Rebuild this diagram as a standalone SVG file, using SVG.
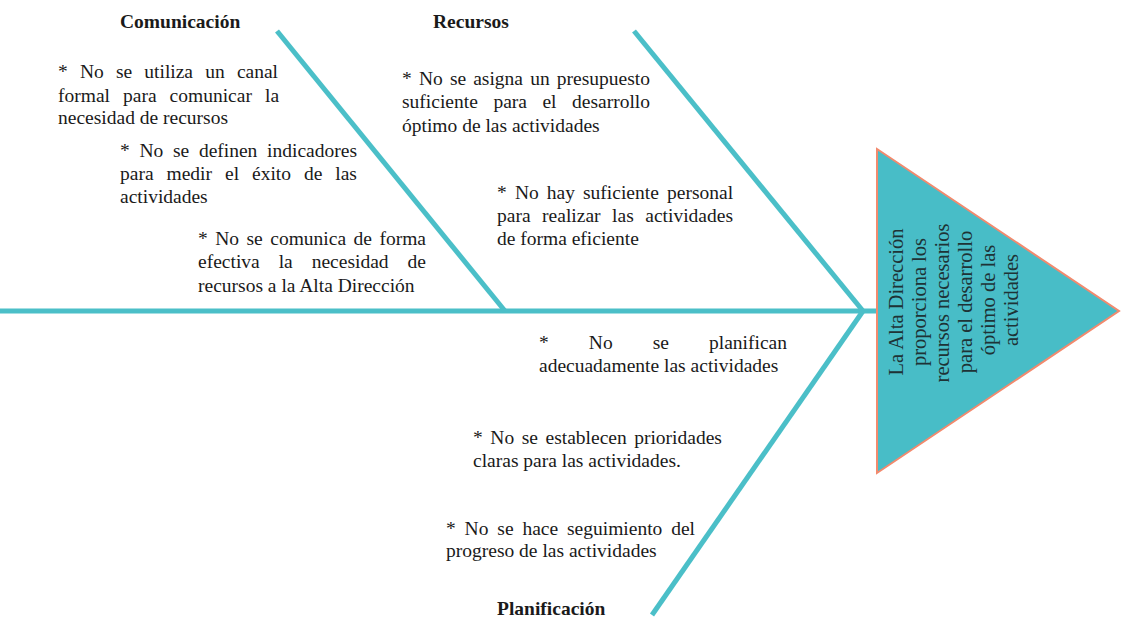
<svg xmlns="http://www.w3.org/2000/svg" width="1122" height="632" viewBox="0 0 1122 632">
<style>
.bone{stroke:#4BBFC8;stroke-width:5;fill:none;stroke-linecap:butt}
.t{font-family:"Liberation Serif","Times New Roman",serif;font-size:19.5px;fill:#1a1a1a}
.h{font-family:"Liberation Serif","Times New Roman",serif;font-size:19.5px;font-weight:bold;fill:#1a1a1a}
.tri{font-family:"Liberation Serif","Times New Roman",serif;font-size:20.5px;fill:#1e3336;text-anchor:middle}
</style>
<rect width="1122" height="632" fill="#ffffff"/>
<g id="connectors">
<line class="bone" x1="0" y1="311" x2="878" y2="311"/>
<line class="bone" x1="277" y1="31" x2="505" y2="311"/>
<line class="bone" x1="634" y1="31" x2="863" y2="311"/>
<line class="bone" x1="863" y1="311" x2="652" y2="615"/>
</g>
<g id="effect">
<polygon points="877,149 1119,311 877,473" fill="#48BDC7" stroke="#F28A6E" stroke-width="2"/>
<text class="tri" transform="translate(903,302) rotate(-90)">La Alta Dirección</text>
<text class="tri" transform="translate(926,302) rotate(-90)">proporciona los</text>
<text class="tri" transform="translate(949,303) rotate(-90)">recursos necesarios</text>
<text class="tri" transform="translate(972,302) rotate(-90)">para el desarrollo</text>
<text class="tri" transform="translate(995,300) rotate(-90)">óptimo de las</text>
<text class="tri" transform="translate(1018,300) rotate(-90)">actividades</text>
</g>
<g id="comunicacion">
<text class="h" x="120" y="28">Comunicación</text>
<text class="t" y="78"><tspan x="58">*</tspan><tspan x="79.9">No</tspan><tspan x="115.9">se</tspan><tspan x="144.3">utiliza</tspan><tspan x="205.2">un</tspan><tspan x="236.9">canal</tspan></text>
<text class="t" y="102"><tspan x="58">formal</tspan><tspan x="123">para</tspan><tspan x="169.6">comunicar</tspan><tspan x="265">la</tspan></text>
<text class="t" x="58" y="124">necesidad de recursos</text>
<text class="t" y="157"><tspan x="120">*</tspan><tspan x="139.5">No</tspan><tspan x="173">se</tspan><tspan x="198.9">definen</tspan><tspan x="267.1">indicadores</tspan></text>
<text class="t" y="180"><tspan x="120">para</tspan><tspan x="166.5">medir</tspan><tspan x="225">el</tspan><tspan x="252">éxito</tspan><tspan x="304">de</tspan><tspan x="335.3">las</tspan></text>
<text class="t" x="120" y="203">actividades</text>
<text class="t" y="245"><tspan x="198">*</tspan><tspan x="215.2">No</tspan><tspan x="246.5">se</tspan><tspan x="270.3">comunica</tspan><tspan x="353.6">de</tspan><tspan x="379.4">forma</tspan></text>
<text class="t" y="268"><tspan x="198">efectiva</tspan><tspan x="278.7">la</tspan><tspan x="311.7">necesidad</tspan><tspan x="407.6">de</tspan></text>
<text class="t" x="198" y="292">recursos a la Alta Dirección</text>
</g>
<g id="recursos">
<text class="h" x="433" y="28">Recursos</text>
<text class="t" y="85"><tspan x="402">*</tspan><tspan x="418.9">No</tspan><tspan x="449.9">se</tspan><tspan x="473.2">asigna</tspan><tspan x="530.2">un</tspan><tspan x="556.8">presupuesto</tspan></text>
<text class="t" y="108"><tspan x="402">suficiente</tspan><tspan x="493.4">para</tspan><tspan x="542.4">el</tspan><tspan x="572">desarrollo</tspan></text>
<text class="t" x="402" y="132">óptimo de las actividades</text>
<text class="t" y="199"><tspan x="497">*</tspan><tspan x="514.9">No</tspan><tspan x="546.8">hay</tspan><tspan x="583">suficiente</tspan><tspan x="667">personal</tspan></text>
<text class="t" y="222"><tspan x="497">para</tspan><tspan x="542.1">realizar</tspan><tspan x="612.1">las</tspan><tspan x="645.3">actividades</tspan></text>
<text class="t" x="497" y="245">de forma eficiente</text>
</g>
<g id="planificacion">
<text class="t" y="349"><tspan x="539">*</tspan><tspan x="588.8">No</tspan><tspan x="652.7">se</tspan><tspan x="709">planifican</tspan></text>
<text class="t" x="539" y="372">adecuadamente las actividades</text>
<text class="t" y="444"><tspan x="473">*</tspan><tspan x="490.3">No</tspan><tspan x="521.7">se</tspan><tspan x="545.5">establecen</tspan><tspan x="634.2">prioridades</tspan></text>
<text class="t" x="473" y="467">claras para las actividades.</text>
<text class="t" y="535"><tspan x="446">*</tspan><tspan x="464.6">No</tspan><tspan x="497.3">se</tspan><tspan x="522.4">hace</tspan><tspan x="567">seguimiento</tspan><tspan x="671.2">del</tspan></text>
<text class="t" x="446" y="557">progreso de las actividades</text>
<text class="h" x="497" y="615">Planificación</text>
</g>
</svg>
